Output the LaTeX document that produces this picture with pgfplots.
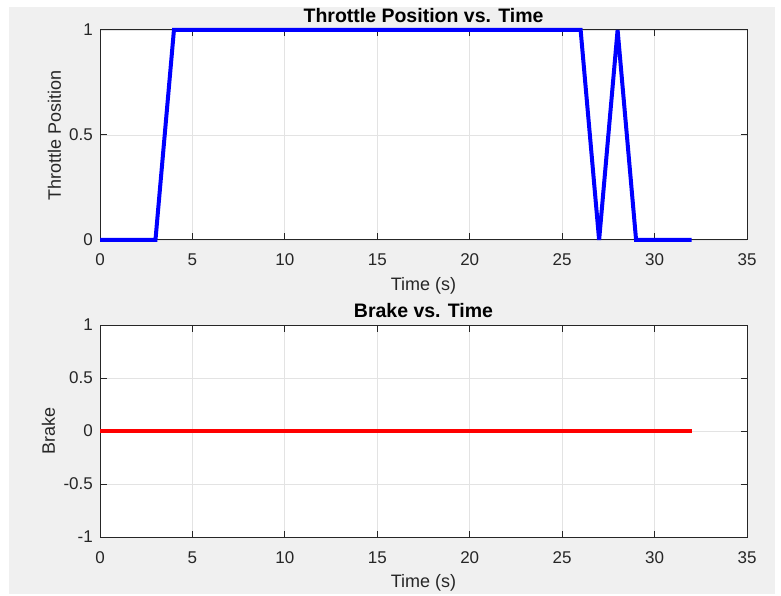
\documentclass[border=0pt]{standalone}
\usepackage{fontspec}
\setmainfont{Liberation Sans}
\usepackage{pgfplots}
\pgfplotsset{compat=1.18}
\definecolor{figbg}{HTML}{F0F0F0}
\definecolor{axcol}{HTML}{262626}
\definecolor{gridcol}{HTML}{E3E3E3}
\pgfplotsset{
  mlstyle/.style={
    scale only axis,
    width=647pt,
    xmin=0, xmax=35,
    xtick={0,5,10,15,20,25,30,35},
    xticklabels={0,5,10,15,20,25,30,35},
    axis background/.style={fill=white},
    axis line style={axcol, line width=1pt},
    every tick/.style={axcol, line width=1pt},
    tick align=inside,
    major tick length=6.5pt,
    xtick pos=both, ytick pos=both,
    grid=major,
    major grid style={gridcol, line width=0.8pt},
    tick label style={text=axcol, font=\fontsize{17}{17}\selectfont},
    xticklabel style={anchor=base, inner sep=0pt, yshift=-26pt},
    yticklabel style={anchor=east, inner sep=0pt, xshift=-7pt},
    xlabel style={at={(axis description cs:0.5,0)}, anchor=base, inner sep=0pt, yshift=-50pt, text=axcol, font=\fontsize{18}{18}\selectfont},
    every axis title/.style={at={(axis description cs:0.5,1)}, anchor=base, inner sep=0pt, yshift=7.5pt, text=black, font=\bfseries\fontsize{19.5}{19.5}\selectfont},
    clip=false,
  }
}
\begin{document}
\begin{tikzpicture}[x=1pt,y=1pt]
\path[fill=white] (0,0) rectangle (781,595);
\path[fill=figbg] (9,1) rectangle (775,588);
\begin{axis}[mlstyle,
  at={(100pt,355pt)}, anchor=south west,
  height=210pt,
  ymin=0, ymax=1,
  ytick={0,0.5,1},
  yticklabels={0,0.5,1},
  title={Throttle Position vs. Time},
  xlabel={Time (s)},
  ylabel={Throttle Position},
  ylabel style={at={(axis description cs:-0.0603,0.5)}, anchor=base, inner sep=0pt, text=axcol, font=\fontsize{18}{18}\selectfont},
]
\addplot[color=blue, line width=4pt, line join=miter] coordinates {
(0,0) (1,0) (2,0) (3,0) (4,1) (5,1) (6,1) (7,1) (8,1) (9,1) (10,1) (11,1) (12,1) (13,1) (14,1) (15,1) (16,1) (17,1) (18,1) (19,1) (20,1) (21,1) (22,1) (23,1) (24,1) (25,1) (26,1) (27,0) (28,1) (29,0) (30,0) (31,0) (32,0)
};
\end{axis}
\begin{axis}[mlstyle,
  at={(100pt,58pt)}, anchor=south west,
  height=212pt,
  ymin=-1, ymax=1,
  ytick={-1,-0.5,0,0.5,1},
  yticklabels={-1,-0.5,0,0.5,1},
  title={Brake vs. Time},
  xlabel={Time (s)},
  ylabel={Brake},
  ylabel style={at={(axis description cs:-0.0696,0.5)}, anchor=base, inner sep=0pt, text=axcol, font=\fontsize{18}{18}\selectfont},
]
\addplot[color=red, line width=3.5pt] coordinates {
(0,0) (1,0) (2,0) (3,0) (4,0) (5,0) (6,0) (7,0) (8,0) (9,0) (10,0) (11,0) (12,0) (13,0) (14,0) (15,0) (16,0) (17,0) (18,0) (19,0) (20,0) (21,0) (22,0) (23,0) (24,0) (25,0) (26,0) (27,0) (28,0) (29,0) (30,0) (31,0) (32,0)
};
\end{axis}
\end{tikzpicture}
\end{document}
